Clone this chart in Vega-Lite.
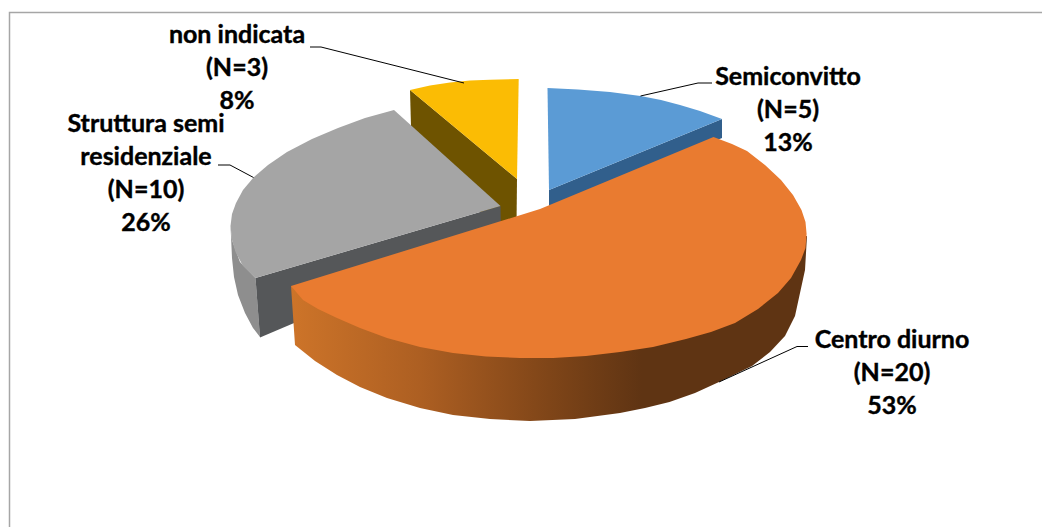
{
  "$schema": "https://vega.github.io/schema/vega-lite/v6.json",
  "width": 1042,
  "height": 527,
  "padding": 0,
  "autosize": {"type": "none"},
  "background": "#ffffff",
  "view": {"stroke": null},
  "config": {"axis": {"grid": false}},
  "datasets": {
    "faces": [
      {"part":"a yellow wall","i":0,"x":410,"y":90},{"part":"a yellow wall","i":1,"x":517,"y":179},{"part":"a yellow wall","i":2,"x":516.5,"y":225},{"part":"a yellow wall","i":3,"x":490,"y":225},{"part":"a yellow wall","i":4,"x":411,"y":127},
      {"part":"b yellow top","i":0,"x":410,"y":90},{"part":"b yellow top","i":1,"x":430,"y":85.5},{"part":"b yellow top","i":2,"x":450,"y":82.5},{"part":"b yellow top","i":3,"x":470,"y":80.5},{"part":"b yellow top","i":4,"x":490,"y":79.7},{"part":"b yellow top","i":5,"x":518.7,"y":79},{"part":"b yellow top","i":6,"x":517,"y":179},
      {"part":"c blue wall","i":0,"x":549,"y":190},{"part":"c blue wall","i":1,"x":722,"y":119},{"part":"c blue wall","i":2,"x":722,"y":138},{"part":"c blue wall","i":3,"x":549,"y":212},
      {"part":"d blue top","i":0,"x":547.5,"y":88},{"part":"d blue top","i":1,"x":578,"y":89.5},{"part":"d blue top","i":2,"x":610,"y":92},{"part":"d blue top","i":3,"x":640.5,"y":96},{"part":"d blue top","i":4,"x":661,"y":100},{"part":"d blue top","i":5,"x":680,"y":105},{"part":"d blue top","i":6,"x":700,"y":111},{"part":"d blue top","i":7,"x":722,"y":119},{"part":"d blue top","i":8,"x":549,"y":190},
      {"part":"e gray side","i":0,"x":230.5,"y":225},{"part":"e gray side","i":1,"x":232,"y":240},{"part":"e gray side","i":2,"x":240,"y":262},{"part":"e gray side","i":3,"x":255.5,"y":278},{"part":"e gray side","i":4,"x":260,"y":337},{"part":"e gray side","i":5,"x":253,"y":328},{"part":"e gray side","i":6,"x":245,"y":313},{"part":"e gray side","i":7,"x":238,"y":295},{"part":"e gray side","i":8,"x":234,"y":277},{"part":"e gray side","i":9,"x":232,"y":258},
      {"part":"f gray wall","i":0,"x":255.5,"y":278},{"part":"f gray wall","i":1,"x":500.5,"y":206},{"part":"f gray wall","i":2,"x":501,"y":235},{"part":"f gray wall","i":3,"x":260,"y":337.5},
      {"part":"g gray top","i":0,"x":500.5,"y":206},{"part":"g gray top","i":1,"x":394,"y":110},{"part":"g gray top","i":2,"x":365,"y":118},{"part":"g gray top","i":3,"x":338,"y":128},{"part":"g gray top","i":4,"x":312,"y":139},{"part":"g gray top","i":5,"x":287,"y":152},{"part":"g gray top","i":6,"x":268,"y":165},{"part":"g gray top","i":7,"x":253.5,"y":177.5},{"part":"g gray top","i":8,"x":243,"y":190},{"part":"g gray top","i":9,"x":236,"y":203},{"part":"g gray top","i":10,"x":232,"y":214},{"part":"g gray top","i":11,"x":230.5,"y":226},{"part":"g gray top","i":12,"x":232,"y":240},{"part":"g gray top","i":13,"x":235.5,"y":252},{"part":"g gray top","i":14,"x":243,"y":266},{"part":"g gray top","i":15,"x":255.5,"y":278}
    ],
    "orangeWall": [
      {"i":0,"x":291,"y":286},{"i":1,"x":420,"y":300},{"i":2,"x":807,"y":236},{"i":3,"x":805,"y":270},{"i":4,"x":800,"y":293},{"i":5,"x":795,"y":316},{"i":6,"x":785,"y":336},{"i":7,"x":770,"y":352},{"i":8,"x":752,"y":366},{"i":9,"x":719,"y":382},{"i":10,"x":695,"y":393},{"i":11,"x":669.5,"y":402},{"i":12,"x":645,"y":408},{"i":13,"x":620,"y":413},{"i":14,"x":575,"y":419},{"i":15,"x":530,"y":421},{"i":16,"x":490,"y":419},{"i":17,"x":453,"y":415},{"i":18,"x":420,"y":408},{"i":19,"x":387,"y":398},{"i":20,"x":360,"y":387},{"i":21,"x":337,"y":375},{"i":22,"x":315,"y":361},{"i":23,"x":295,"y":345}
    ],
    "orangeTop": [
      {"i":0,"x":291,"y":286},{"i":1,"x":540,"y":209},{"i":2,"x":713.5,"y":137},{"i":3,"x":732,"y":144},{"i":4,"x":747,"y":151},{"i":5,"x":765,"y":165},{"i":6,"x":781,"y":180},{"i":7,"x":793,"y":195},{"i":8,"x":801.5,"y":210},{"i":9,"x":805.5,"y":222},{"i":10,"x":806.6,"y":234},{"i":11,"x":805.5,"y":248},{"i":12,"x":801,"y":260},{"i":13,"x":791,"y":278},{"i":14,"x":778,"y":293},{"i":15,"x":758,"y":309},{"i":16,"x":735,"y":323},{"i":17,"x":711,"y":332},{"i":18,"x":686,"y":339},{"i":19,"x":653,"y":347},{"i":20,"x":620,"y":352},{"i":21,"x":586,"y":356},{"i":22,"x":553,"y":358},{"i":23,"x":520,"y":358},{"i":24,"x":486,"y":356.5},{"i":25,"x":453,"y":353},{"i":26,"x":420,"y":347},{"i":27,"x":387,"y":338},{"i":28,"x":360,"y":328},{"i":29,"x":337,"y":318},{"i":30,"x":318,"y":309},{"i":31,"x":303,"y":300}
    ],
    "leaders": [
      {"slice":"non indicata","i":0,"x":310,"y":47},{"slice":"non indicata","i":1,"x":321,"y":47},{"slice":"non indicata","i":2,"x":464,"y":83},
      {"slice":"Struttura semi residenziale","i":0,"x":218,"y":165},{"slice":"Struttura semi residenziale","i":1,"x":230,"y":165},{"slice":"Struttura semi residenziale","i":2,"x":253.5,"y":177.5},
      {"slice":"Semiconvitto","i":0,"x":712,"y":83},{"slice":"Semiconvitto","i":1,"x":698,"y":83},{"slice":"Semiconvitto","i":2,"x":640.5,"y":96},
      {"slice":"Centro diurno","i":0,"x":808,"y":346.5},{"slice":"Centro diurno","i":1,"x":797,"y":346.5},{"slice":"Centro diurno","i":2,"x":719,"y":382}
    ],
    "slices": [
      {"slice":"non indicata","n":3,"pct":8,"label":"non indicata\n(N=3)\n8%","x":237,"y":35},
      {"slice":"Struttura semi residenziale","n":10,"pct":26,"label":"Struttura semi\nresidenziale\n(N=10)\n26%","x":146,"y":124},
      {"slice":"Semiconvitto","n":5,"pct":13,"label":"Semiconvitto\n(N=5)\n13%","x":788,"y":77},
      {"slice":"Centro diurno","n":20,"pct":53,"label":"Centro diurno\n(N=20)\n53%","x":892,"y":340}
    ],
    "frame": [
      {"i":0,"x":9.5,"y":527},{"i":1,"x":9.5,"y":12.5},{"i":2,"x":1042,"y":12.5}
    ]
  },
  "layer": [
    {
      "data": {"name": "frame"},
      "mark": {"type": "line", "stroke": "#a6a6a6", "strokeWidth": 1.5},
      "encoding": {
        "x": {"field": "x", "type": "quantitative", "scale": {"domain": [0, 1042], "nice": false, "zero": false}, "axis": null},
        "y": {"field": "y", "type": "quantitative", "scale": {"domain": [527, 0], "nice": false, "zero": false}, "axis": null},
        "order": {"field": "i"}
      }
    },
    {
      "data": {"name": "faces"},
      "mark": {"type": "line", "filled": true, "strokeWidth": 0},
      "encoding": {
        "x": {"field": "x", "type": "quantitative", "scale": {"domain": [0, 1042], "nice": false, "zero": false}, "axis": null},
        "y": {"field": "y", "type": "quantitative", "scale": {"domain": [527, 0], "nice": false, "zero": false}, "axis": null},
        "order": {"field": "i"},
        "fill": {
          "field": "part",
          "type": "nominal",
          "legend": null,
          "scale": {
            "domain": ["a yellow wall", "b yellow top", "c blue wall", "d blue top", "e gray side", "f gray wall", "g gray top"],
            "range": ["#6e5300", "#fbbc04", "#315f8c", "#5b9bd5", "#8e8e8e", "#555759", "#a5a5a5"]
          }
        }
      }
    },
    {
      "data": {"name": "orangeWall"},
      "mark": {
        "type": "line",
        "filled": true,
        "strokeWidth": 0,
        "fill": {
          "gradient": "linear",
          "x1": 0, "y1": 0, "x2": 1, "y2": 0,
          "stops": [
            {"offset": 0, "color": "#cd7429"},
            {"offset": 0.25, "color": "#ad5f22"},
            {"offset": 0.5, "color": "#7f4518"},
            {"offset": 0.68, "color": "#5f3413"},
            {"offset": 1, "color": "#5f3413"}
          ]
        }
      },
      "encoding": {
        "x": {"field": "x", "type": "quantitative", "scale": {"domain": [0, 1042], "nice": false, "zero": false}, "axis": null},
        "y": {"field": "y", "type": "quantitative", "scale": {"domain": [527, 0], "nice": false, "zero": false}, "axis": null},
        "order": {"field": "i"}
      }
    },
    {
      "data": {"name": "orangeTop"},
      "mark": {"type": "line", "filled": true, "strokeWidth": 0, "fill": "#e97b30"},
      "encoding": {
        "x": {"field": "x", "type": "quantitative", "scale": {"domain": [0, 1042], "nice": false, "zero": false}, "axis": null},
        "y": {"field": "y", "type": "quantitative", "scale": {"domain": [527, 0], "nice": false, "zero": false}, "axis": null},
        "order": {"field": "i"}
      }
    },
    {
      "data": {"name": "leaders"},
      "mark": {"type": "line", "stroke": "#000000", "strokeWidth": 1},
      "encoding": {
        "x": {"field": "x", "type": "quantitative", "scale": {"domain": [0, 1042], "nice": false, "zero": false}, "axis": null},
        "y": {"field": "y", "type": "quantitative", "scale": {"domain": [527, 0], "nice": false, "zero": false}, "axis": null},
        "order": {"field": "i"},
        "detail": {"field": "slice"}
      }
    },
    {
      "data": {"name": "slices"},
      "mark": {"type": "text", "font": "Lato", "fontWeight": "bold", "fontSize": 25, "lineBreak": "\n", "lineHeight": 33, "align": "center", "baseline": "middle", "fill": "#000000", "stroke": "#000000", "strokeWidth": 0.4},
      "encoding": {
        "x": {"field": "x", "type": "quantitative", "scale": {"domain": [0, 1042], "nice": false, "zero": false}, "axis": null},
        "y": {"field": "y", "type": "quantitative", "scale": {"domain": [527, 0], "nice": false, "zero": false}, "axis": null},
        "text": {"field": "label"}
      }
    }
  ]
}
